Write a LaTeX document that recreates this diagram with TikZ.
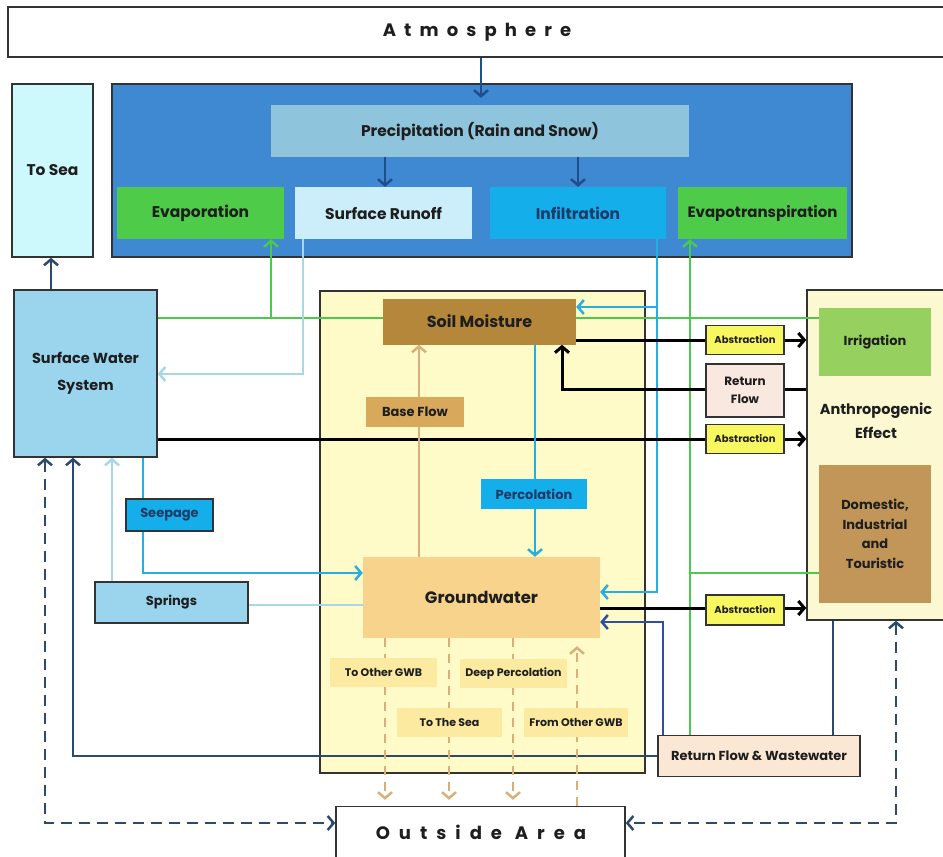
\documentclass[tikz,border=0pt]{standalone}
\usepackage{fontspec}
\setmainfont{Poppins}
\usetikzlibrary{arrows.meta}
\pgfdeclarelayer{back}
\pgfdeclarelayer{mid}
\pgfsetlayers{back,mid,main}
\definecolor{bluebg}{HTML}{3F88D2}
\definecolor{precipc}{HTML}{8EC5DC}
\definecolor{evapc}{HTML}{4FCB4A}
\definecolor{runoffc}{HTML}{CBEEFA}
\definecolor{infilc}{HTML}{14AEEA}
\definecolor{toseac}{HTML}{CDF8FC}
\definecolor{swsc}{HTML}{9AD5ED}
\definecolor{zonec}{HTML}{FEFBC8}
\definecolor{soilc}{HTML}{B4873A}
\definecolor{basec}{HTML}{D8A95B}
\definecolor{gwc}{HTML}{F8D38B}
\definecolor{lblc}{HTML}{FBEAA0}
\definecolor{absc}{HTML}{F7F760}
\definecolor{retc}{HTML}{F8E8E0}
\definecolor{anthc}{HTML}{FCF9D2}
\definecolor{irrc}{HTML}{96D05E}
\definecolor{domc}{HTML}{C29558}
\definecolor{rfwc}{HTML}{FBE8D4}
\definecolor{bordc}{HTML}{333333}
\definecolor{txtc}{HTML}{1E1E1E}
\definecolor{navytxt}{HTML}{1F3A66}
\definecolor{greenl}{HTML}{4CC84C}
\definecolor{lbline}{HTML}{A6D8E6}
\definecolor{bline}{HTML}{25AEE0}
\definecolor{navyc}{HTML}{2B4A6C}
\definecolor{navyb}{HTML}{2E4FA0}
\definecolor{tanl}{HTML}{D9B07C}
\definecolor{precarr}{HTML}{1F4E8C}
\tikzset{
  box/.style={draw=bordc, line width=1.4pt, inner sep=0pt, align=center, text=txtc},
  flat/.style={inner sep=0pt, align=center, text=txtc},
  big/.style={font=\fontsize{15.5}{18}\selectfont\bfseries},
  mid/.style={font=\fontsize{13}{15}\selectfont\bfseries},
  tiny/.style={font=\fontsize{10}{12}\selectfont\bfseries},
  lbl/.style={font=\fontsize{11}{13}\selectfont\bfseries},
  conn/.style={line width=2.5pt},
  arr/.style={-{Straight Barb[length=6pt,width=14pt]}},
  dblarr/.style={{Straight Barb[length=6pt,width=14pt]}-{Straight Barb[length=6pt,width=14pt]}},
}
\begin{document}
\begin{tikzpicture}[x=1pt,y=-1pt]
\useasboundingbox (0,0) rectangle (943,857);
\begin{pgfonlayer}{back}
\fill[white] (0,0) rectangle (943,857);
\node[box, fill=white, minimum width=938pt, minimum height=50pt] (atm) at (477,32)
  {\fontsize{18}{20}\selectfont\bfseries\addfontfeature{LetterSpace=45}Atmosphere};
\node[box, fill=bluebg, minimum width=740pt, minimum height=173pt] (surf) at (482,170.5) {};
\node[box, fill=toseac, minimum width=81pt, minimum height=173pt, big] (tosea) at (52.5,170.5) {To Sea};
\node[box, fill=zonec, minimum width=325pt, minimum height=482pt] (zone) at (482.5,532) {};
\node[box, fill=anthc, minimum width=143pt, minimum height=330pt] (anthro) at (878.5,455) {};
\node[box, fill=white, minimum width=289pt, minimum height=63pt] (outside) at (480.5,838) {};
\end{pgfonlayer}
% main nodes
\node[flat, fill=precipc, minimum width=418pt, minimum height=52pt, big] (precip) at (480,131) {Precipitation (Rain and Snow)};
\node[flat, fill=evapc, minimum width=167pt, minimum height=52pt, big] (evap) at (200.5,213) {Evaporation};
\node[flat, fill=runoffc, minimum width=177pt, minimum height=52pt, big] (runoff) at (383.5,213) {Surface Runoff};
\node[flat, fill=infilc, minimum width=176pt, minimum height=52pt, big, text=navytxt] (infil) at (578,213) {Infiltration};
\node[flat, fill=evapc, minimum width=169pt, minimum height=52pt, font=\fontsize{15}{18}\selectfont\bfseries] (evapot) at (762.5,213) {Evapotranspiration};
\node[box, fill=swsc, minimum width=143pt, minimum height=167pt, font=\fontsize{14.5}{27}\selectfont\bfseries] (sws) at (85.5,373.5) {Surface Water\\System};
\node[flat, fill=soilc, minimum width=193pt, minimum height=46pt, font=\fontsize{16}{19}\selectfont\bfseries] (soil) at (479.5,321.5) {Soil Moisture};
\node[flat, fill=basec, minimum width=98pt, minimum height=30pt, mid] (base) at (415,412) {Base Flow};
\node[flat, fill=infilc, minimum width=106pt, minimum height=30pt, mid, text=navytxt] (perc) at (534,494) {Percolation};
\node[flat, fill=gwc, minimum width=237pt, minimum height=81pt, font=\fontsize{16.5}{19}\selectfont\bfseries] (gw) at (481.5,597.5) {Groundwater};
\node[box, fill=infilc, minimum width=87pt, minimum height=32pt, mid, text=navytxt] (seep) at (169.5,515) {Seepage};
\node[box, fill=swsc, minimum width=153pt, minimum height=41pt, mid] (springs) at (171.5,602.5) {Springs};
\node[flat, fill=irrc, minimum width=112pt, minimum height=68pt, mid] (irrig) at (875,342) {Irrigation};
\node[flat, fill=domc, minimum width=112pt, minimum height=138pt, font=\fontsize{13}{19.5}\selectfont\bfseries] (dom) at (875,534) {Domestic,\\Industrial\\and\\Touristic};
\node[flat, font=\fontsize{14.5}{24}\selectfont\bfseries] (anthtext) at (876,421) {Anthropogenic\\Effect};
\node[box, fill=absc, minimum width=78pt, minimum height=29pt, tiny] (abs1) at (745,340) {Abstraction};
\node[box, fill=retc, minimum width=78pt, minimum height=53pt, font=\fontsize{12}{18}\selectfont\bfseries] (retflow) at (745,390.5) {Return\\Flow};
\node[box, fill=absc, minimum width=78pt, minimum height=29pt, tiny] (abs2) at (745,439) {Abstraction};
\node[box, fill=absc, minimum width=78pt, minimum height=30pt, tiny] (abs3) at (745,610) {Abstraction};
\node[box, fill=rfwc, minimum width=202pt, minimum height=41pt, font=\fontsize{13}{15}\selectfont\bfseries] (rfw) at (759,756) {Return Flow \& Wastewater};
\node[flat, fill=lblc, minimum width=107pt, minimum height=29pt, lbl] (otgwb) at (383.5,672.5) {To Other GWB};
\node[flat, fill=lblc, minimum width=107pt, minimum height=29pt, lbl] (deep) at (513.5,673.5) {Deep Percolation};
\node[flat, fill=lblc, minimum width=105pt, minimum height=29pt, lbl] (sea) at (449.5,722.5) {To The Sea};
\node[flat, fill=lblc, minimum width=104pt, minimum height=29pt, lbl] (fromgwb) at (576,722.5) {From Other GWB};
\node[flat, font=\fontsize{18}{20}\selectfont\bfseries\addfontfeature{LetterSpace=50}] (outtext) at (481,832) {Outside Area};
\coordinate (gj) at (271,318);
\coordinate (ij) at (657,307);
\coordinate (ej) at (690,573);
% connectors
\begin{pgfonlayer}{mid}
\draw[conn, precarr, arr, shorten >=7pt] (atm.south -| 481,0) -- (precip.north -| 481,0);
\draw[conn, precarr, arr] (precip.south -| 385,0) -- (runoff.north -| 385,0);
\draw[conn, precarr, arr] (precip.south -| 578,0) -- (infil.north -| 578,0);
\draw[conn, navyc, arr] (sws.north -| 51,0) -- (tosea.south -| 51,0);
% green
\draw[conn, greenl] (sws.east |- 0,318) -- (irrig.west |- 0,318);
\draw[conn, greenl, arr] (gj) -- (evap.south -| gj);
\draw[conn, greenl, arr] (rfw.north -| 690,0) -- (evapot.south -| 690,0);
\draw[conn, greenl] (ej) -- (dom.west |- ej);
% runoff
\draw[conn, lbline, arr] (runoff.south -| 303,0) |- (sws.east |- 0,374);
% infiltration
\draw[conn, bline, arr] (infil.south -| 657,0) |- (gw.east |- 0,592);
\draw[conn, bline, arr] (ij) -- (soil.east |- ij);
% black abstraction lines
\draw[line width=3pt, black] (soil.east |- 0,340) -- (abs1.west |- 0,340);
\draw[line width=3pt, black, arr] (abs1.east |- 0,340) -- (anthro.west |- 0,340);
\draw[line width=3pt, black] (sws.east |- 0,439) -- (abs2.west |- 0,439);
\draw[line width=3pt, black, arr] (abs2.east |- 0,439) -- (anthro.west |- 0,439);
\draw[line width=3pt, black] (gw.east |- 0,608) -- (abs3.west |- 0,608);
\draw[line width=3pt, black, arr] (abs3.east |- 0,608) -- (anthro.west |- 0,608);
\draw[line width=3pt, black] (anthro.west |- 0,389) -- (retflow.east |- 0,389);
\draw[line width=3pt, black, arr] (retflow.west |- 0,389) -| (soil.south -| 562,0);
% navy return flow & wastewater
\draw[conn, navyc, arr] (rfw.west) -| (sws.south -| 73,0);
\draw[conn, navyb, arr] (rfw.north -| 663,0) |- (gw.east |- 0,622);
\draw[conn, navyc] (rfw.north -| 833,0) -- (anthro.south -| 833,0);
% dashed outside
\draw[conn, navyc, dashed, dash pattern=on 11pt off 7pt, dblarr] (sws.south -| 45,0) |- (outside.west |- 0,823);
\draw[conn, navyc, dashed, dash pattern=on 11pt off 7pt, dblarr] (anthro.south -| 896,0) |- (outside.east |- 0,823);
% springs & seepage
\draw[conn, lbline, arr] (springs.north -| 112,0) -- (sws.south -| 112,0);
\draw[conn, lbline] (springs.east |- 0,605) -- (gw.west |- 0,605);
\draw[conn, bline, arr] (sws.south -| 143,0) |- (gw.west |- 0,573);
% base flow & percolation
\draw[conn, tanl, arr] (gw.north -| 419,0) -- (soil.south -| 419,0);
\draw[conn, bline, arr] (soil.south -| 535,0) -- (gw.north -| 535,0);
% deep flows
\draw[conn, tanl, dashed, dash pattern=on 9pt off 7pt, arr, shorten >=6pt] (gw.south -| 385,0) -- (outside.north -| 385,0);
\draw[conn, tanl, dashed, dash pattern=on 9pt off 7pt, arr, shorten >=6pt] (gw.south -| 449,0) -- (outside.north -| 449,0);
\draw[conn, tanl, dashed, dash pattern=on 9pt off 7pt, arr, shorten >=6pt] (gw.south -| 513,0) -- (outside.north -| 513,0);
\draw[conn, tanl, dashed, dash pattern=on 9pt off 7pt, arr, shorten >=8pt] (outside.north -| 577,0) -- (gw.south -| 577,0);
\end{pgfonlayer}
\end{tikzpicture}
\end{document}
